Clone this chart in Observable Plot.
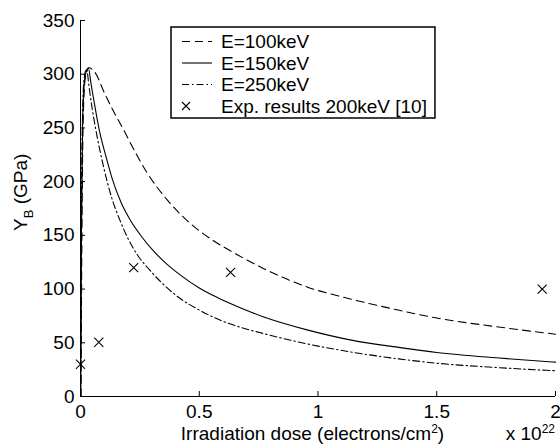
<!DOCTYPE html>
<html><head><meta charset="utf-8">
<script src="https://cdn.jsdelivr.net/npm/d3@7"></script>
<script src="https://cdn.jsdelivr.net/npm/@observablehq/plot@0.6"></script>
<style>body{margin:0;background:#fff} #chart{width:560px;height:444px}</style>
</head><body><div id="chart"></div>
<script>
// ---- data ----
const e100Dose = [0.002, 0.006, 0.011, 0.02, 0.035, 0.06, 0.1, 0.133, 0.187, 0.21, 0.281, 0.365, 0.463, 0.56, 0.66, 0.772, 0.954, 1.151, 1.347, 1.5, 1.75, 2.0];
const e100YB   = [0, 150, 255, 296, 306, 302, 283, 268, 246, 236, 208, 183, 161, 145, 132, 119, 102, 90, 80, 73, 65, 58];
const e150Dose = [0.001, 0.004, 0.009, 0.018, 0.033, 0.045, 0.056, 0.08, 0.109, 0.133, 0.17, 0.21, 0.26, 0.309, 0.36, 0.421, 0.5, 0.582, 0.68, 0.772, 0.954, 1.151, 1.347, 1.5, 1.75, 2.0];
const e150YB   = [0, 150, 255, 296, 306, 290, 276, 247, 222, 203, 181, 164, 148, 135, 124, 113, 101, 91.5, 82, 74, 62, 52, 45.5, 41, 36, 32];
const e250Dose = [0.001, 0.003, 0.008, 0.015, 0.026, 0.035, 0.045, 0.07, 0.098, 0.13, 0.168, 0.2, 0.239, 0.29, 0.337, 0.421, 0.5, 0.589, 0.68, 0.772, 0.954, 1.151, 1.34, 1.5, 1.75, 2.0];
const e250YB   = [0, 150, 255, 296, 305, 290, 274, 242, 213, 186, 163, 147, 132, 118, 107, 91, 80.5, 71, 64, 58.5, 49, 41, 35, 31, 27, 24];
const expDose  = [0, 0.077, 0.224, 0.632, 1.944];
const expYB    = [30, 50.5, 120, 115.5, 100];
const xTicks = [0, 0.5, 1, 1.5, 2];
const yTicks = [0, 50, 100, 150, 200, 250, 300, 350];
const seriesNames = ["E=100keV", "E=150keV", "E=250keV", "Exp. results 200keV [10]"];
const seriesDash = ["8,5", null, "7,3,1.5,3"];

const rows = (xs, ys) => xs.map((x, i) => ({dose: x, yb: ys[i]}));
const lines = [rows(e100Dose, e100YB), rows(e150Dose, e150YB), rows(e250Dose, e250YB)];
const expRows = rows(expDose, expYB);

const FONT = "'Liberation Sans', Arial, Helvetica, sans-serif";
const FS = 19;

const plot = Plot.plot({
  width: 560, height: 444,
  marginLeft: 80, marginRight: 5, marginTop: 20, marginBottom: 48,
  style: {fontFamily: FONT, fontSize: FS + "px", color: "#000", background: "#fff", overflow: "visible"},
  x: {domain: [0, 2]},
  y: {domain: [0, 350]},
  marks: [
    Plot.axisX({ticks: xTicks, tickSize: 5, tickPadding: 3, label: null, tickFormat: d => String(d)}),
    Plot.axisY({ticks: yTicks, tickSize: 5, tickPadding: 1, label: null, tickFormat: d => String(d)}),
    Plot.ruleX([0], {stroke: "#000", strokeWidth: 1}),
    Plot.ruleY([0], {stroke: "#000", strokeWidth: 1}),
    ...lines.map((data, i) => Plot.line(data, {x: "dose", y: "yb", stroke: "#000", strokeWidth: 1.1,
      strokeDasharray: seriesDash[i], curve: "monotone-x"})),
    Plot.dot(expRows, {x: "dose", y: "yb", symbol: "times", r: 4.2, stroke: "#000", strokeWidth: 1.1})
  ]
});
document.getElementById("chart").appendChild(plot);

const svg = d3.select(plot);
// ticks point inward (MATLAB style)
const flip = function() { return this.getAttribute("d").replace(/-?\d*\.?\d+(e-?\d+)?/g, m => String(-parseFloat(m))); };
svg.selectAll('g[aria-label="x-axis tick"] path').attr("d", flip);
svg.selectAll('g[aria-label="y-axis tick"] path').attr("d", flip);

const sx = plot.scale("x"), sy = plot.scale("y");
const g = svg.append("g").attr("font-family", FONT).attr("font-size", FS).attr("fill", "#000");

// y label
const yl = g.append("text").attr("transform", `translate(27,${sy.apply(0) - 165}) rotate(-90)`).attr("text-anchor", "start");
yl.append("tspan").text("Y");
yl.append("tspan").attr("dy", 6).attr("font-size", 13).text("B");
yl.append("tspan").attr("dy", -6).text(" (GPa)");

// x label
const xl = g.append("text").attr("x", (sx.apply(0) + sx.apply(2)) / 2 - 5).attr("y", 440).attr("text-anchor", "middle");
xl.append("tspan").text("Irradiation dose (electrons/cm");
xl.append("tspan").attr("dy", -7).attr("font-size", 12).text("2");
xl.append("tspan").attr("dy", 7).text(")");

// exponent
const ex = g.append("text").attr("x", sx.apply(2)).attr("y", 440).attr("text-anchor", "end");
ex.append("tspan").text("x 10");
ex.append("tspan").attr("dy", -7).attr("font-size", 12).text("22");

// legend
const lg = svg.append("g").attr("font-family", FONT).attr("font-size", FS).attr("text-anchor", "start");
const box = lg.append("rect").attr("x", 171).attr("y", 27).attr("height", 91).attr("fill", "#fff").attr("stroke", "#000").attr("stroke-width", 1.5);
const rowY = [41.5, 63, 84.5, 106];
let maxRight = 0;
seriesNames.forEach((name, i) => {
  if (i < 3) {
    lg.append("line").attr("x1", 182).attr("x2", 212).attr("y1", rowY[i]).attr("y2", rowY[i])
      .attr("stroke", "#000").attr("stroke-width", 1.1).attr("stroke-dasharray", seriesDash[i]);
  } else {
    lg.append("path").attr("d", "M-4,-4L4,4M-4,4L4,-4").attr("transform", `translate(186,${rowY[i]})`)
      .attr("stroke", "#000").attr("stroke-width", 1.1);
  }
  const t = lg.append("text").attr("x", 221).attr("y", rowY[i] + 6.5).attr("text-anchor", "start").attr("fill", "#000").text(name);
  maxRight = Math.max(maxRight, 221 + t.node().getComputedTextLength());
});
box.attr("width", maxRight + 8 - 171);
</script>
</body></html>
